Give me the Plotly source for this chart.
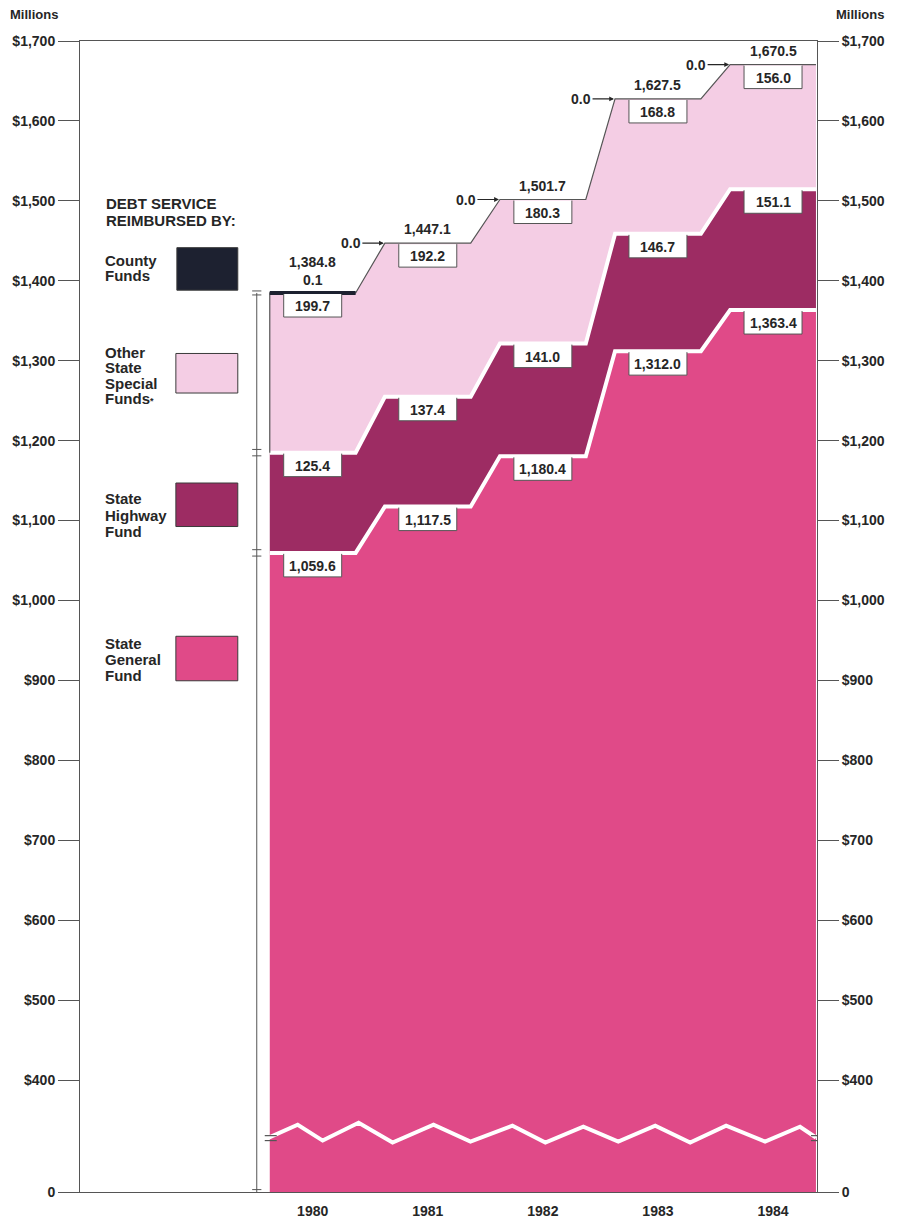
import plotly.graph_objects as go

# ---- data (millions of dollars) ----
years = [1980, 1981, 1982, 1983, 1984]
general_fund = [1059.6, 1117.5, 1180.4, 1312.0, 1363.4]
highway_fund = [125.4, 137.4, 141.0, 146.7, 151.1]
other_special_funds = [199.7, 192.2, 180.3, 168.8, 156.0]
county_funds = [0.1, 0.0, 0.0, 0.0, 0.0]

y_tick_values = [260, 400, 500, 600, 700, 800, 900, 1000, 1100, 1200, 1300, 1400, 1500, 1600, 1700]
y_tick_labels = ["0", "$400", "$500", "$600", "$700", "$800", "$900", "$1,000", "$1,100",
                 "$1,200", "$1,300", "$1,400", "$1,500", "$1,600", "$1,700"]
year_labels = [str(y) for y in years]

# ---- page geometry ----
W, H = 899, 1231
L, R, T, B = 79, 82, 41, 26
PW, PH = W - L - R, H - T - B
X0, X1 = 1977.978, 1984.382
Y0, Y1 = 260, 1700
HALF = 0.373  # half width of each year's flat step

FONT = "Liberation Sans, Arial, Helvetica, sans-serif"
INK = "#262626"
AXIS = "#555555"
GEN_C = "#E04A88"
HWY_C = "#9D2C63"
OTH_C = "#F4CDE4"
CTY_C = "#1d2130"


def px_x(px):
    return X0 + (px - L) / PW * (X1 - X0)


def px_y(py):
    return Y0 + (H - B - py) / PH * (Y1 - Y0)


def pap_x(px):
    return (px - L) / PW


def pap_y(py):
    return (H - B - py) / PH


def fmt(v):
    return f"{v:,.1f}"


# cumulative layers
s1 = general_fund
s2 = [a + b for a, b in zip(s1, highway_fund)]
s3 = [a + b for a, b in zip(s2, other_special_funds)]
s4 = [a + b for a, b in zip(s3, county_funds)]


def step_xy(vals):
    xs, ys = [], []
    for yr, v in zip(years, vals):
        xs += [yr - HALF, yr + HALF]
        ys += [v, v]
    return xs, ys


fig = go.Figure()

xs, y1 = step_xy(s1)
_, y2 = step_xy(s2)
_, y3 = step_xy(s3)
_, y4 = step_xy(s4)

fig.add_trace(go.Scatter(x=xs, y=y1, mode="lines", line=dict(width=0),
                         fill="tozeroy", fillcolor=GEN_C, hoverinfo="skip"))
fig.add_trace(go.Scatter(x=xs, y=y2, mode="lines", line=dict(width=0),
                         fill="tonexty", fillcolor=HWY_C, hoverinfo="skip"))
fig.add_trace(go.Scatter(x=xs, y=y3, mode="lines", line=dict(width=0),
                         fill="tonexty", fillcolor=OTH_C, hoverinfo="skip"))

# white separating bands between layers
for ys in (y1, y2):
    fig.add_trace(go.Scatter(x=xs, y=ys, mode="lines",
                             line=dict(color="white", width=4), hoverinfo="skip"))

# thin outline along the top of the stack (with the left edge of the top layer)
fig.add_trace(go.Scatter(x=[xs[0]] + xs, y=[s2[0]] + y4, mode="lines",
                         line=dict(color=AXIS, width=1.2), hoverinfo="skip"))

# county funds drawn as a heavy rule on top where present
for yr, c, tot in zip(years, county_funds, s4):
    if c > 0:
        fig.add_trace(go.Scatter(x=[yr - HALF, yr + HALF], y=[tot, tot], mode="lines",
                                 line=dict(color=CTY_C, width=4), hoverinfo="skip"))

# axis break zigzag
zig_px = [(268, 1150), (297, 1137), (322, 1153), (358, 1135), (392, 1155), (433, 1137),
          (470, 1154), (512, 1138), (545, 1155), (583, 1139), (618, 1154), (655, 1138),
          (690, 1155), (726, 1138), (765, 1154), (800, 1139), (816, 1150)]
fig.add_trace(go.Scatter(x=[px_x(p[0]) for p in zig_px], y=[px_y(p[1]) for p in zig_px],
                         mode="lines", line=dict(color="white", width=4), hoverinfo="skip"))

# invisible trace to carry the right-hand axis
fig.add_trace(go.Scatter(x=[X0], y=[Y0], yaxis="y2", mode="markers",
                         marker=dict(opacity=0), hoverinfo="skip"))

shapes = []
annotations = []
label_font = dict(family=FONT, size=14, color=INK, weight="bold")

# value boxes hanging below each boundary
box_sets = [(s1, general_fund), (s2, highway_fund), (s3, other_special_funds)]
for tops, vals in box_sets:
    for yr, top, v in zip(years, tops, vals):
        shapes.append(dict(type="path", layer="above",
                           xref="x", yref="y", xsizemode="pixel", ysizemode="pixel",
                           xanchor=yr, yanchor=top,
                           path="M-29,-1 L-29,-24 L29,-24 L29,-1",
                           fillcolor="white", line=dict(color=AXIS, width=1)))
        annotations.append(dict(x=yr, y=top, xref="x", yref="y", text=fmt(v),
                                showarrow=False, yshift=-13, font=label_font))

# totals above the stack; county amounts
for yr, tot, c in zip(years, s4, county_funds):
    if c > 0:
        annotations.append(dict(x=yr, y=tot, text=fmt(c), showarrow=False,
                                yanchor="bottom", yshift=3, font=label_font))
        annotations.append(dict(x=yr, y=tot, text=fmt(tot), showarrow=False,
                                yanchor="bottom", yshift=21, font=label_font))
    else:
        annotations.append(dict(x=yr, y=tot, text=fmt(tot), showarrow=False,
                                yanchor="bottom", yshift=4, font=label_font))
        annotations.append(dict(x=yr - HALF, y=tot, text=fmt(c), showarrow=True,
                                ax=-34, ay=0, arrowhead=2, arrowsize=0.8, arrowwidth=1.2,
                                arrowcolor=INK, standoff=1, font=label_font))

# dimension rule to the left of the stack
dim_x = px_x(256)
shapes.append(dict(type="line", xref="x", yref="y", x0=dim_x, x1=dim_x, y0=Y0, y1=s4[0],
                   line=dict(color=AXIS, width=1)))
tick_dx = 0.04
for yv in [s4[0] - 2.5, s4[0] + 2.5, s2[0] - 4, s2[0] + 4, s1[0] - 4, s1[0] + 4, Y0 + 3]:
    shapes.append(dict(type="line", xref="x", yref="y", x0=dim_x - tick_dx, x1=dim_x + tick_dx,
                       y0=yv, y1=yv, line=dict(color=AXIS, width=1)))
# break marks at both ends of the zigzag
for cx in (270, 817):
    for py in (1148, 1153):
        shapes.append(dict(type="line", xref="x", yref="y", x0=px_x(cx - 6), x1=px_x(cx + 6),
                           y0=px_y(py), y1=px_y(py), line=dict(color=AXIS, width=1.2)))

# ---- legend block ----
legend_font = dict(family=FONT, size=15, color=INK, weight="bold")
for text, py in (("DEBT SERVICE", 205.5), ("REIMBURSED BY:", 222.5)):
    annotations.append(dict(xref="paper", yref="paper", x=pap_x(103), y=pap_y(py),
                            xanchor="left", yanchor="middle", showarrow=False, text=text,
                            font=legend_font))

legend_items = [
    (["County", "Funds"], CTY_C, (176, 250, 237, 293), 263, 15.5),
    (["Other", "State", "Special", "Funds<span style='font-size:9px'>*</span>"],
     OTH_C, (175, 357, 237, 397), 356, 15.5),
    (["State", "Highway", "Fund"], HWY_C, (175, 488, 237, 532), 504, 16.5),
    (["State", "General", "Fund"], GEN_C, (175, 643, 237, 688), 650, 16.5),
]
for lines, color, (bx0, by0, bx1, by1), first_y, step in legend_items:
    shapes.append(dict(type="rect", xref="paper", yref="paper",
                       x0=pap_x(bx0), x1=pap_x(bx1), y0=pap_y(by1), y1=pap_y(by0),
                       fillcolor=color, line=dict(color="#3a3a3a", width=1)))
    for i, ln in enumerate(lines):
        annotations.append(dict(xref="paper", yref="paper", x=pap_x(102), y=pap_y(first_y + i * step),
                                xanchor="left", yanchor="middle", showarrow=False, text=ln,
                                font=legend_font))

# unit captions
for px, anchor in ((7, "left"), (886, "right")):
    annotations.append(dict(xref="paper", yref="paper", x=pap_x(px), y=pap_y(14),
                            xanchor=anchor, yanchor="middle", showarrow=False, text="Millions",
                            font=dict(family=FONT, size=13, color=INK, weight="bold")))

tick_font = dict(family=FONT, size=14, color=INK, weight="bold")
yaxis_common = dict(range=[Y0, Y1], tickmode="array", tickvals=y_tick_values, ticktext=y_tick_labels,
                    showgrid=False, zeroline=False, showline=True, linecolor=AXIS, linewidth=1,
                    ticks="outside", ticklen=21, tickwidth=1, tickcolor=AXIS, tickfont=tick_font)

fig.update_layout(
    width=W, height=H,
    margin=dict(l=L, r=R, t=T, b=B, pad=0),
    paper_bgcolor="white", plot_bgcolor="white",
    showlegend=False,
    xaxis=dict(range=[X0, X1], tickmode="array", tickvals=years, ticktext=year_labels,
               showgrid=False, zeroline=False, showline=True, mirror=True, linecolor=AXIS,
               linewidth=1, ticks="", tickfont=tick_font, ticklabelstandoff=6),
    yaxis=dict(side="left", **yaxis_common),
    yaxis2=dict(side="right", overlaying="y", matches="y", **yaxis_common),
    shapes=shapes,
    annotations=annotations,
)

fig.write_html("out.html")
